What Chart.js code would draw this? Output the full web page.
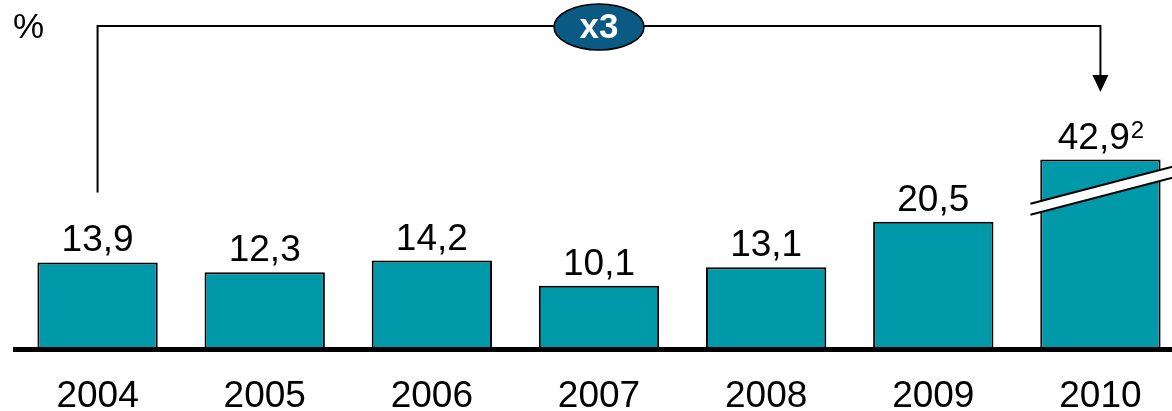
<!DOCTYPE html>
<html>
<head>
<meta charset="utf-8">
<script src="https://cdn.jsdelivr.net/npm/chart.js@4/dist/chart.umd.min.js"></script>
<style>
  html, body { margin: 0; padding: 0; background: #fff; overflow: hidden; }
  #wrap { width: 1184px; height: 411px; }
</style>
</head>
<body>
<div id="wrap"><canvas id="chart" width="1184" height="411"></canvas></div>
<script>
// Data
const years = ['2004', '2005', '2006', '2007', '2008', '2009', '2010'];
const values = [13.9, 12.3, 14.2, 10.1, 13.1, 20.5, 42.9];
const valueLabels = ['13,9', '12,3', '14,2', '10,1', '13,1', '20,5', '42,9'];
const footnotes = ['', '', '', '', '', '', '2'];
const breakCap = 30.6; // bars taller than this are drawn cut (axis break)
const unitLabel = '%';
const growthLabel = 'x3';

const FONT = '"Liberation Sans", Arial, sans-serif';
const barColor = '#0099A9';
const ovalColor = '#0B5A84';

const plotted = values.map(v => Math.min(v, breakCap));

// Draws labels, baseline, bracket, oval and the break marks
const decorations = {
    id: 'decorations',
    afterDatasetsDraw(chart) {
        const ctx = chart.ctx;
        const bars = chart.getDatasetMeta(0).data;
        const area = chart.chartArea;
        ctx.save();

        // axis break on cut bars
        bars.forEach((bar, i) => {
            if (values[i] <= breakCap) return;
            const slope = -0.26;
            const x1 = bar.x - 70, x2 = chart.width;
            const yc = bar.y + 26;
            const gap = 11;
            const yAt = x => yc + slope * (x - bar.x);
            ctx.beginPath();
            ctx.moveTo(x1, yAt(x1));
            ctx.lineTo(x2, yAt(x2));
            ctx.lineTo(x2, yAt(x2) + gap);
            ctx.lineTo(x1, yAt(x1) + gap);
            ctx.closePath();
            ctx.fillStyle = '#fff';
            ctx.fill();
            ctx.strokeStyle = '#000';
            ctx.lineWidth = 2;
            ctx.beginPath();
            ctx.moveTo(x1, yAt(x1));
            ctx.lineTo(x2, yAt(x2));
            ctx.moveTo(x1, yAt(x1) + gap);
            ctx.lineTo(x2, yAt(x2) + gap);
            ctx.stroke();
        });

        // baseline
        ctx.strokeStyle = '#000';
        ctx.lineWidth = 5;
        ctx.beginPath();
        ctx.moveTo(13, area.bottom + 1.5);
        ctx.lineTo(chart.width, area.bottom + 1.5);
        ctx.stroke();

        // value labels and years
        ctx.fillStyle = '#000';
        ctx.textBaseline = 'alphabetic';
        bars.forEach((bar, i) => {
            ctx.font = '37px ' + FONT;
            const main = valueLabels[i];
            const wMain = ctx.measureText(main).width;
            let wSup = 0;
            if (footnotes[i]) {
                ctx.font = '24px ' + FONT;
                wSup = ctx.measureText(footnotes[i]).width;
            }
            const left = bar.x - (wMain + wSup) / 2;
            ctx.font = '37px ' + FONT;
            ctx.textAlign = 'left';
            ctx.fillText(main, left, bar.y - 11);
            if (footnotes[i]) {
                ctx.font = '24px ' + FONT;
                ctx.fillText(footnotes[i], left + wMain + 1, bar.y - 22);
            }
            ctx.font = '37px ' + FONT;
            ctx.textAlign = 'center';
            ctx.fillText(years[i], bar.x, 407);
        });

        // unit
        ctx.font = '35px ' + FONT;
        ctx.textAlign = 'left';
        ctx.fillText(unitLabel, 13, 38);

        // growth bracket from first to last bar
        const first = bars[0], last = bars[bars.length - 1];
        const topY = 26;
        ctx.lineWidth = 2;
        ctx.beginPath();
        ctx.moveTo(first.x, first.y - 70);
        ctx.lineTo(first.x, topY);
        ctx.lineTo(last.x, topY);
        ctx.lineTo(last.x, 78);
        ctx.stroke();
        ctx.beginPath();
        ctx.moveTo(last.x - 8, 75);
        ctx.lineTo(last.x + 8, 75);
        ctx.lineTo(last.x, 92);
        ctx.closePath();
        ctx.fill();

        // oval with multiplier
        const cx = (first.x + last.x) / 2;
        ctx.beginPath();
        ctx.ellipse(cx, topY + 1, 45, 23, 0, 0, Math.PI * 2);
        ctx.fillStyle = ovalColor;
        ctx.fill();
        ctx.lineWidth = 1.5;
        ctx.stroke();
        ctx.fillStyle = '#fff';
        ctx.font = 'bold 35px ' + FONT;
        ctx.textAlign = 'center';
        ctx.textBaseline = 'middle';
        ctx.fillText(growthLabel, cx, topY + 2);

        ctx.restore();
    }
};

new Chart(document.getElementById('chart'), {
    type: 'bar',
    data: {
        labels: years,
        datasets: [{
            data: plotted,
            backgroundColor: barColor,
            borderColor: '#000',
            borderWidth: 2,
            barPercentage: 0.72,
            categoryPercentage: 1
        }]
    },
    options: {
        responsive: false,
        animation: false,
        layout: { padding: { left: 14, right: 0, top: 40, bottom: 63 } },
        plugins: {
            legend: { display: false },
            tooltip: { enabled: false }
        },
        scales: {
            x: { display: false },
            y: { display: false, min: 0, max: 50 }
        }
    },
    plugins: [decorations]
});
</script>
</body>
</html>
